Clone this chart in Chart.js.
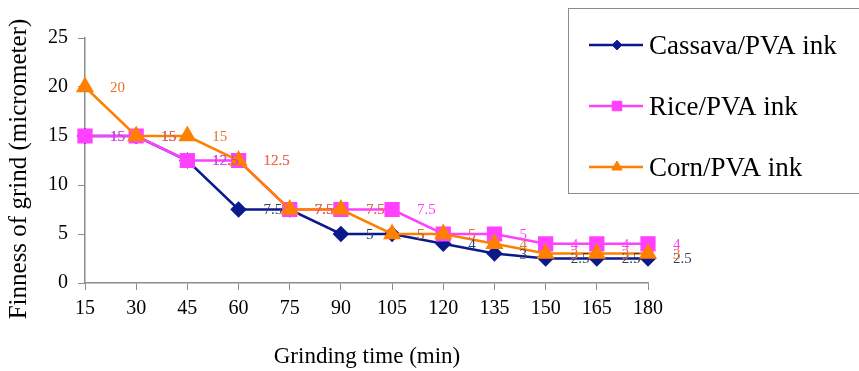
<!DOCTYPE html>
<html>
<head>
<meta charset="utf-8">
<script src="https://cdn.jsdelivr.net/npm/chart.js@4"></script>
<style>
  html, body { margin: 0; padding: 0; background: #fff; }
  #wrap { width: 859px; height: 371px; position: relative; }
</style>
</head>
<body>
<div id="wrap"><canvas id="grindChart"></canvas></div>
<script>
// Data
const grindTimes = ['15', '30', '45', '60', '75', '90', '105', '120', '135', '150', '165', '180'];
const cassavaValues = [15, 15, 12.5, 7.5, 7.5, 5, 5, 4, 3, 2.5, 2.5, 2.5];
const riceValues = [15, 15, 12.5, 12.5, 7.5, 7.5, 7.5, 5, 5, 4, 4, 4];
const cornValues = [20, 15, 15, 12.5, 7.5, 7.5, 5, 5, 4, 3, 3, 3];
const seriesNames = ['Cassava/PVA ink', 'Rice/PVA ink', 'Corn/PVA ink'];
const xTitle = 'Grinding time (min)';
const yTitle = 'Finness of grind (micrometer)';

const colors = {
    cassava: '#0A1A8C',
    cassavaLabel: '#33406B',
    rice: '#FF40FF',
    corn: '#FF8000',
    cornLabel: '#E8732A',
    axis: '#8C8C8C'
};

const serif = 'Liberation Serif';

// value labels, drawn to the right of each point
const valueLabels = {
    id: 'valueLabels',
    afterDatasetsDraw(chart) {
        const ctx = chart.ctx;
        ctx.save();
        ctx.font = '15px "' + serif + '"';
        ctx.textAlign = 'left';
        ctx.textBaseline = 'middle';
        chart.data.datasets.forEach((ds, i) => {
            const meta = chart.getDatasetMeta(i);
            ctx.fillStyle = ds.labelColor;
            meta.data.forEach((pt, j) => {
                ctx.fillText(String(ds.data[j]), pt.x + 25, pt.y + 1);
            });
        });
        ctx.restore();
    }
};

// boxed legend at the top right + axis titles
const boxLegend = {
    id: 'boxLegend',
    afterDraw(chart) {
        const ctx = chart.ctx;
        ctx.save();
        ctx.strokeStyle = '#8C8C8C';
        ctx.lineWidth = 1;
        ctx.strokeRect(568.5, 8.5, 300, 185);
        ctx.font = '27px "' + serif + '"';
        ctx.textBaseline = 'middle';
        ctx.textAlign = 'left';
        chart.data.datasets.forEach((ds, i) => {
            const y = 45 + i * 61;
            ctx.strokeStyle = ds.borderColor;
            ctx.lineWidth = 2.5;
            ctx.beginPath();
            ctx.moveTo(589, y);
            ctx.lineTo(643, y);
            ctx.stroke();
            ctx.fillStyle = ds.backgroundColor;
            ctx.strokeStyle = ds.borderColor;
            ctx.lineWidth = 1;
            Chart.helpers.drawPoint(ctx, {
                pointStyle: ds.pointStyle,
                radius: ds.pointRadius * 0.75,
                borderWidth: 1
            }, 617, y);
            ctx.fillStyle = '#000';
            ctx.fillText(ds.label, 649, y + 2);
        });

        // axis titles
        ctx.fillStyle = '#000';
        ctx.textAlign = 'center';
        ctx.font = '23px "' + serif + '"';
        ctx.fillText(xTitle, 367, 357);
        ctx.translate(19, 169);
        ctx.rotate(-Math.PI / 2);
        ctx.font = '25px "' + serif + '"';
        ctx.fillText(yTitle, 0, 0);
        ctx.restore();
    }
};

const ctx = document.getElementById('grindChart');
new Chart(ctx.getContext('2d'), {
    type: 'line',
    data: {
        labels: grindTimes,
        datasets: [{
            label: seriesNames[0],
            data: cassavaValues,
            borderColor: colors.cassava,
            backgroundColor: colors.cassava,
            labelColor: colors.cassavaLabel,
            pointStyle: 'rectRot',
            pointRadius: 6.5,
            borderWidth: 2.5,
            tension: 0,
            clip: false,
            order: 3
        }, {
            label: seriesNames[1],
            data: riceValues,
            borderColor: colors.rice,
            backgroundColor: colors.rice,
            labelColor: colors.rice,
            pointStyle: 'rect',
            pointRadius: 9,
            borderWidth: 2.5,
            tension: 0,
            clip: false,
            order: 2
        }, {
            label: seriesNames[2],
            data: cornValues,
            borderColor: colors.corn,
            backgroundColor: colors.corn,
            labelColor: colors.cornLabel,
            pointStyle: 'triangle',
            pointRadius: 8,
            borderWidth: 2.5,
            tension: 0,
            clip: false,
            order: 1
        }]
    },
    options: {
        responsive: true,
        maintainAspectRatio: false,
        animation: false,
        layout: {
            padding: { top: 38, right: 211, bottom: 0, left: 0 }
        },
        plugins: {
            legend: { display: false },
            tooltip: { enabled: false }
        },
        elements: {
            point: { borderWidth: 1 }
        },
        scales: {
            x: {
                offset: false,
                grid: {
                    drawOnChartArea: false,
                    drawTicks: true,
                    tickLength: 7,
                    color: colors.axis
                },
                border: { color: colors.axis, width: 1.5 },
                ticks: {
                    color: '#000',
                    padding: 7,
                    maxRotation: 0,
                    autoSkip: false,
                    font: { family: serif, size: 20 }
                },
                afterFit(scale) { scale.height = 88; }
            },
            y: {
                min: 0,
                max: 25,
                grid: {
                    drawOnChartArea: false,
                    drawTicks: true,
                    tickLength: 7,
                    color: colors.axis
                },
                border: { color: colors.axis, width: 1.5 },
                ticks: {
                    stepSize: 5,
                    color: '#000',
                    padding: 10,
                    font: { family: serif, size: 20 }
                },
                afterFit(scale) { scale.width = 85; }
            }
        }
    },
    plugins: [valueLabels, boxLegend]
});
</script>
</body>
</html>
